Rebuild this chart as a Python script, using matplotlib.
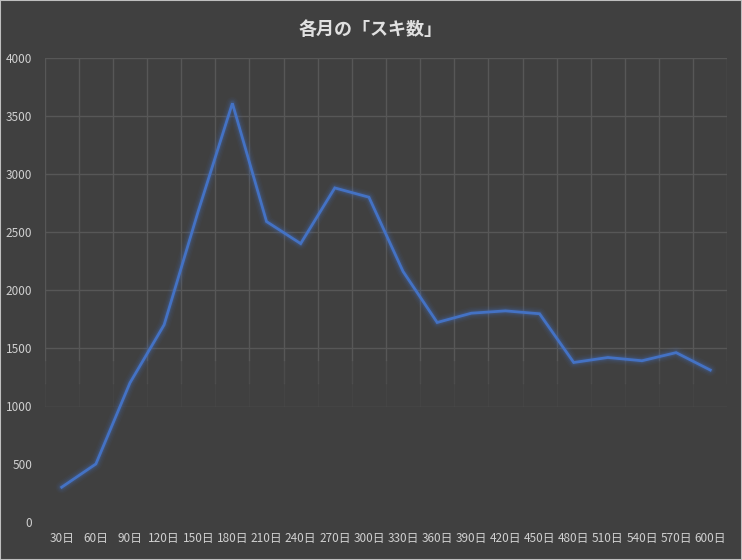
import matplotlib
matplotlib.use("Agg")
import matplotlib.pyplot as plt
import numpy as np

plt.rcParams["font.family"] = ["Noto Sans CJK JP", "DejaVu Sans"]

# Data
days = [30, 60, 90, 120, 150, 180, 210, 240, 270, 300,
        330, 360, 390, 420, 450, 480, 510, 540, 570, 600]
labels = [f"{d}日" for d in days]
suki = [300, 500, 1200, 1700, 2680, 3610, 2590, 2400, 2880, 2800,
        2160, 1720, 1800, 1820, 1795, 1375, 1418, 1390, 1460, 1310]
y_ticks = [0, 500, 1000, 1500, 2000, 2500, 3000, 3500, 4000]

BG = "#404040"
GRID = "#575757"
LINE = "#4472c4"
TEXT = "#d0d0d0"

fig = plt.figure(figsize=(7.42, 5.6), dpi=100)
fig.patch.set_facecolor(BG)
ax = fig.add_axes([0.0602, 0.0679, 0.9200, 0.8285])
ax.set_facecolor(BG)

x = np.arange(len(days))
ax.set_xlim(-0.5, len(days) - 0.5)
ax.set_ylim(0, 4000)

# gridlines (they fade out towards the bottom in the original)
for yv in y_ticks[3:]:
    ax.axhline(yv, color=GRID, lw=1.0, zorder=1)
ax.axhline(1000, color=GRID, lw=1.0, alpha=0.2, zorder=1)
for b in np.arange(-0.5, len(days), 1.0):
    ax.plot([b, b], [1400, 4000], color=GRID, lw=1.0, zorder=1)
    ax.plot([b, b], [1200, 1400], color=GRID, lw=1.0, alpha=0.5, zorder=1)
    ax.plot([b, b], [1000, 1200], color=GRID, lw=1.0, alpha=0.2, zorder=1)

# glow under the line
for w, a in [(9, 0.05), (7, 0.07), (5, 0.11), (3.6, 0.16)]:
    ax.plot(x, suki, color=LINE, lw=w, alpha=a, solid_joinstyle="round",
            solid_capstyle="round", zorder=2)
ax.plot(x, suki, color=LINE, lw=2.0, solid_joinstyle="miter", zorder=3)

ax.set_xticks(x)
ax.set_xticklabels(labels)
ax.set_yticks(y_ticks)
ax.set_yticklabels([str(v) for v in y_ticks])
ax.tick_params(axis="both", length=0, colors=TEXT, labelsize=8.5)
ax.tick_params(axis="x", pad=7)
ax.tick_params(axis="y", pad=9)
for s in ax.spines.values():
    s.set_visible(False)

fig.text(0.5, 0.947, "各月の「スキ数」", ha="center", va="center",
         fontsize=13, fontweight="bold", color="#e0e0e0")

# thin light frame around the picture
fig.patches.append(plt.Rectangle((0, 0), 1, 1, transform=fig.transFigure,
                                 fill=False, edgecolor="#bfbfbf", lw=1.5))

fig.savefig("out.png", dpi=100, facecolor=BG)
